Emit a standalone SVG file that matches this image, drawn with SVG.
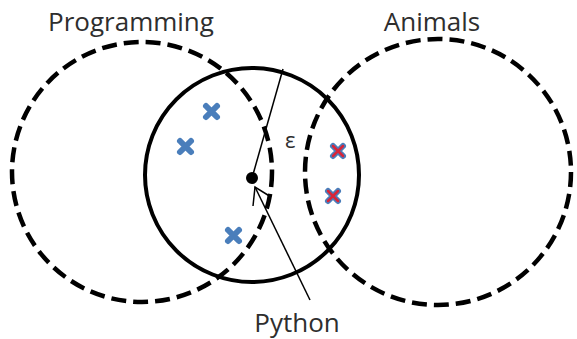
<svg xmlns="http://www.w3.org/2000/svg" width="577" height="339" viewBox="0 0 577 339">
<style>
.dash{fill:none;stroke:#000;stroke-width:4.5;stroke-dasharray:15 7}
.solid{fill:none;stroke:#000;stroke-width:4}
.lbl{font-family:"Open Sans","Liberation Sans",sans-serif;font-size:26px;fill:#2e2e2e;text-anchor:middle}
.xb{fill:none;stroke:#4a7ebb;stroke-width:6;stroke-linecap:round}
.xr{fill:none;stroke:#d8263a;stroke-width:2.5;stroke-linecap:round}
.ln{fill:none;stroke:#000;stroke-width:1.5}
</style>
<rect width="577" height="339" fill="#fff"/>
<g id="programming">
<circle class="dash" cx="142" cy="172" r="130"/>
<text class="lbl" x="131" y="31">Programming</text>
</g>
<g id="animals">
<circle class="dash" cx="438" cy="172" r="133"/>
<text class="lbl" x="432" y="31">Animals</text>
</g>
<g id="neighborhood">
<circle class="solid" cx="252" cy="175" r="107"/>
</g>
<g id="points">
<path class="xb" d="M206 106l11 11M217 106l-11 11"/>
<path class="xb" d="M180 141l11 11M191 141l-11 11"/>
<path class="xb" d="M228 230l11 11M239 230l-11 11"/>
<path class="xb" d="M333 146l10 10M343 146l-10 10"/>
<path class="xr" d="M333 146l10 10M343 146l-10 10"/>
<path class="xb" d="M328 191l10 10M338 191l-10 10"/>
<path class="xr" d="M328 191l10 10M338 191l-10 10"/>
</g>
<g id="python">
<circle cx="252" cy="178" r="6" fill="#000"/>
<text class="lbl" x="297" y="332">Python</text>
</g>
<g id="connectors">
<line class="ln" x1="252" y1="178" x2="283" y2="69"/>
<text x="285" y="148" style="font-family:'Open Sans',sans-serif;font-size:22px;fill:#2e2e2e">ε</text>
<line class="ln" x1="310" y1="300" x2="255" y2="187"/>
<path class="ln" d="M253 206L255 187L271 197"/>
</g>
</svg>
